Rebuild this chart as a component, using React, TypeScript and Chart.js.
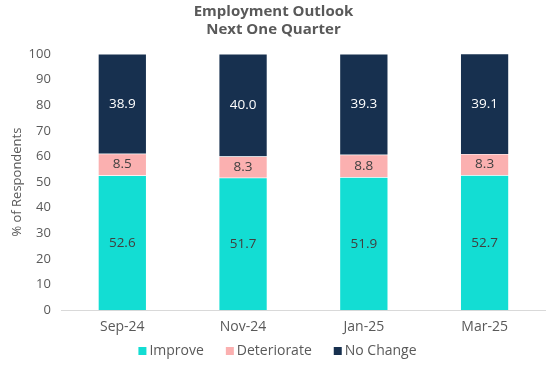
import React, { useEffect, useRef } from "react";
import { Chart, registerables } from "chart.js";

Chart.register(...registerables);

const categories = ["Sep-24", "Nov-24", "Jan-25", "Mar-25"];
const improve = [52.6, 51.7, 51.9, 52.7];
const deteriorate = [8.5, 8.3, 8.8, 8.3];
const noChange = [38.9, 40.0, 39.3, 39.1];
const titleLines = ["Employment Outlook", "Next One Quarter"];

const FONT = "'Open Sans', 'DejaVu Sans', sans-serif";

const labelPlugin = {
  id: "barLabels",
  afterDatasetsDraw(chart: any) {
    const ctx = chart.ctx;
    ctx.save();
    ctx.font = `13.5px ${FONT}`;
    ctx.textAlign = "center";
    ctx.textBaseline = "middle";
    chart.data.datasets.forEach((ds: any, i: number) => {
      const meta = chart.getDatasetMeta(i);
      meta.data.forEach((bar: any, j: number) => {
        const v = ds.data[j] as number;
        const y = (bar.y + bar.base) / 2;
        ctx.fillStyle = i === 2 ? "#ffffff" : "#404040";
        ctx.fillText(v.toFixed(1), bar.x, y);
      });
    });
    ctx.restore();
  },
};

const legendPlugin = {
  id: "customLegend",
  afterDraw(chart: any) {
    const ctx = chart.ctx;
    ctx.save();
    ctx.font = `14px ${FONT}`;
    ctx.textBaseline = "middle";
    const box = 8;
    const gapBoxText = 3;
    const gapItems = 22;
    const items = chart.data.datasets.map((ds: any) => ({
      label: ds.label as string,
      color: ds.backgroundColor as string,
      w: ctx.measureText(ds.label).width,
    }));
    const total =
      items.reduce((s: number, it: any) => s + box + gapBoxText + it.w, 0) + gapItems * (items.length - 1);
    let x = chart.width / 2 - total / 2;
    const y = 351;
    items.forEach((it: any) => {
      ctx.fillStyle = it.color;
      ctx.fillRect(x, y - box / 2, box, box);
      x += box + gapBoxText;
      ctx.fillStyle = "#595959";
      ctx.textAlign = "left";
      ctx.fillText(it.label, x, y);
      x += it.w + gapItems;
    });
    ctx.restore();
  },
};

export default function App() {
  const ref = useRef<HTMLCanvasElement>(null);
  useEffect(() => {
    document.body.style.margin = "0";
    const chart = new Chart(ref.current!, {
      type: "bar",
      data: {
        labels: categories,
        datasets: [
          { label: "Improve", data: improve, backgroundColor: "#13DDD3", borderColor: "#ffffff", borderWidth: 0.5 },
          { label: "Deteriorate", data: deteriorate, backgroundColor: "#FBB0B0", borderColor: "#ffffff", borderWidth: 0.5 },
          { label: "No Change", data: noChange, backgroundColor: "#17304F", borderColor: "#ffffff", borderWidth: 0.5 },
        ],
      },
      options: {
        responsive: false,
        animation: false,
        layout: { padding: { left: 2, right: 10, top: 0, bottom: 23 } },
        datasets: { bar: { barPercentage: 0.4, categoryPercentage: 1 } },
        scales: {
          x: {
            stacked: true,
            grid: { display: false, drawTicks: false },
            border: { display: true, color: "#d9d9d9", width: 1 },
            ticks: { color: "#595959", font: { family: FONT, size: 14 }, padding: 8 },
          },
          y: {
            stacked: true,
            min: 0,
            max: 100,
            grid: { display: false, drawTicks: false },
            border: { display: false },
            ticks: { stepSize: 10, color: "#595959", font: { family: FONT, size: 13 }, padding: 11 },
            title: {
              display: true,
              text: "% of Respondents",
              color: "#595959",
              font: { family: FONT, size: 13 },
              padding: { top: 7, bottom: -7 },
            },
          },
        },
        plugins: {
          title: {
            display: true,
            text: titleLines,
            color: "#595959",
            font: { family: FONT, size: 15, weight: "bold", lineHeight: 1.2 },
            padding: { top: 3, bottom: 15 },
          },
          legend: { display: false },
          tooltip: { enabled: false },
        },
      },
      plugins: [labelPlugin, legendPlugin],
    });
    return () => chart.destroy();
  }, []);
  return (
    <div style={{ width: 555, height: 366 }}>
      <canvas ref={ref} width={555} height={366} />
    </div>
  );
}
